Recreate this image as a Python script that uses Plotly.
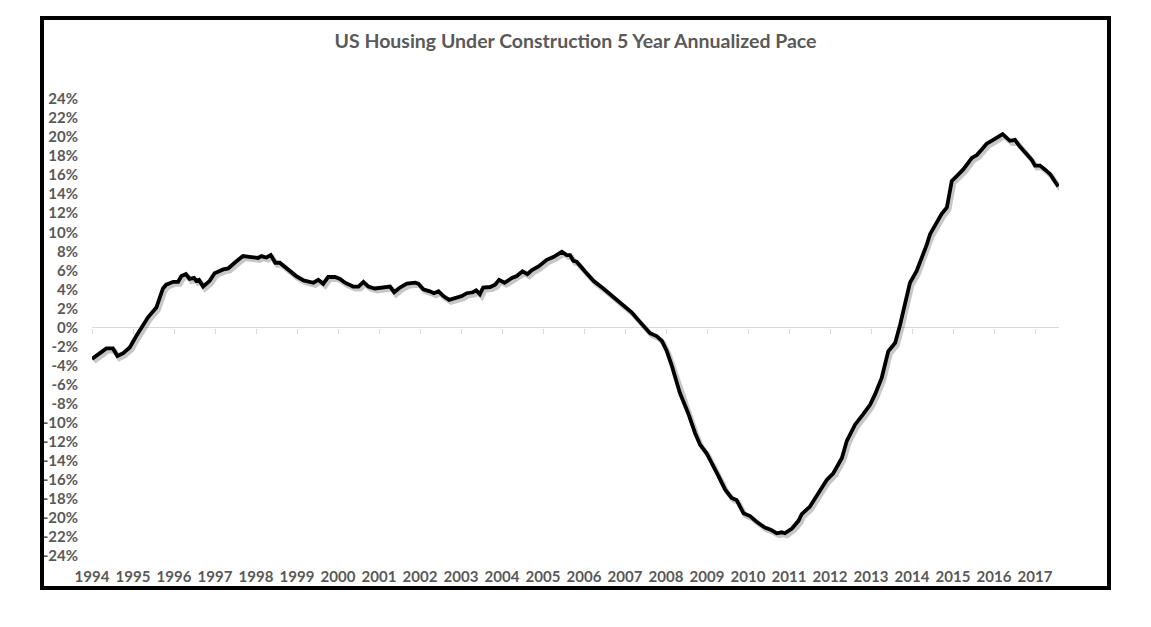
import plotly.graph_objects as go

# ---- data ----
years = [
    1994.00, 1994.15, 1994.35, 1994.51, 1994.62, 1994.76, 1994.92, 1995.08, 1995.24, 1995.37,
    1995.57, 1995.73, 1995.81, 1995.98, 1996.10, 1996.18, 1996.29, 1996.38, 1996.49, 1996.54,
    1996.61, 1996.71, 1996.87, 1996.99, 1997.20, 1997.32, 1997.48, 1997.68, 1997.89, 1998.05,
    1998.13, 1998.25, 1998.36, 1998.47, 1998.58, 1998.78, 1998.98, 1999.16, 1999.40, 1999.52,
    1999.64, 1999.76, 1999.93, 2000.05, 2000.17, 2000.37, 2000.50, 2000.62, 2000.74, 2000.90,
    2001.07, 2001.19, 2001.27, 2001.37, 2001.51, 2001.68, 2001.88, 2001.96, 2002.08, 2002.24,
    2002.34, 2002.45, 2002.57, 2002.71, 2002.90, 2003.02, 2003.14, 2003.29, 2003.37, 2003.46,
    2003.54, 2003.71, 2003.83, 2003.93, 2004.06, 2004.24, 2004.36, 2004.50, 2004.62, 2004.72,
    2004.89, 2005.09, 2005.25, 2005.37, 2005.46, 2005.58, 2005.66, 2005.74, 2005.82, 2006.02,
    2006.23, 2006.47, 2006.68, 2006.84, 2007.00, 2007.16, 2007.32, 2007.49, 2007.61, 2007.77,
    2007.90, 2008.02, 2008.14, 2008.34, 2008.54, 2008.71, 2008.83, 2008.99, 2009.12, 2009.28,
    2009.44, 2009.60, 2009.72, 2009.89, 2010.05, 2010.21, 2010.41, 2010.54, 2010.70, 2010.82,
    2010.90, 2011.07, 2011.23, 2011.31, 2011.51, 2011.71, 2011.92, 2012.08, 2012.29, 2012.41,
    2012.61, 2012.81, 2012.98, 2013.10, 2013.26, 2013.42, 2013.59, 2013.71, 2013.83, 2013.95,
    2014.11, 2014.24, 2014.36, 2014.44, 2014.60, 2014.72, 2014.85, 2014.89, 2014.97, 2015.09,
    2015.25, 2015.46, 2015.58, 2015.70, 2015.82, 2015.98, 2016.10, 2016.21, 2016.31, 2016.39,
    2016.51, 2016.63, 2016.80, 2016.92, 2017.00, 2017.12, 2017.24, 2017.37, 2017.49, 2017.57,
]
pace_pct = [
    -3.3, -2.8, -2.2, -2.2, -3.0, -2.7, -2.1, -0.9, 0.3, 1.1,
    2.1, 4.1, 4.5, 4.8, 4.8, 5.4, 5.6, 5.1, 5.2, 4.9,
    5.0, 4.3, 4.9, 5.7, 6.1, 6.2, 6.8, 7.5, 7.4, 7.3,
    7.5, 7.35, 7.6, 6.8, 6.8, 6.1, 5.4, 4.95, 4.7, 5.0,
    4.6, 5.3, 5.3, 5.1, 4.7, 4.3, 4.3, 4.8, 4.3, 4.1,
    4.2, 4.2, 4.3, 3.7, 4.2, 4.6, 4.7, 4.6, 4.0, 3.8,
    3.6, 3.8, 3.3, 2.9, 3.1, 3.3, 3.6, 3.7, 3.9, 3.5,
    4.2, 4.25, 4.5, 5.0, 4.7, 5.2, 5.4, 5.9, 5.6, 6.0,
    6.4, 7.1, 7.4, 7.7, 7.95, 7.6, 7.6, 7.0, 6.9, 5.9,
    4.9, 4.1, 3.3, 2.8, 2.1, 1.6, 0.8, -0.1, -0.6, -0.9,
    -1.4, -2.5, -4.0, -6.9, -9.0, -11.1, -12.3, -13.2, -14.2, -15.6,
    -17.0, -17.9, -18.1, -19.5, -19.8, -20.4, -21.0, -21.2, -21.6, -21.5,
    -21.6, -21.1, -20.3, -19.6, -18.8, -17.4, -16.0, -15.3, -13.7, -11.9,
    -10.2, -9.1, -8.1, -7.0, -5.3, -2.5, -1.6, 0.3, 2.6, 4.7,
    5.9, 7.3, 8.7, 9.8, 11.0, 11.9, 12.6, 13.4, 15.4, 15.9,
    16.6, 17.8, 18.1, 18.7, 19.3, 19.7, 20.0, 20.3, 19.9, 19.6,
    19.7, 19.0, 18.2, 17.6, 17.0, 17.0, 16.6, 16.1, 15.3, 14.8,
]

x_tick_vals = list(range(1994, 2018))
x_tick_text = [str(y) for y in x_tick_vals]
y_tick_vals = list(range(-24, 25, 2))
y_tick_text = [f"{v}%" for v in y_tick_vals]

title_text = "US Housing Under Construction 5 Year Annualized Pace"

# ---- layout constants (reference pixel coordinates) ----
W, H = 1151, 627
OFF = 8  # page body margin offset
PLOT_L, PLOT_R, PLOT_T, PLOT_B = 92, 1059, 97, 558
ML = PLOT_L - OFF
MT = PLOT_T - OFF
MR = W - PLOT_R + OFF
MB = H - PLOT_B + OFF
X_RANGE = [1994.0, 2017.585]
Y_RANGE = [-24.2, 24.2]
plot_w = PLOT_R - PLOT_L
plot_h = PLOT_B - PLOT_T
px_per_year = plot_w / (X_RANGE[1] - X_RANGE[0])
px_per_pct = plot_h / (Y_RANGE[1] - Y_RANGE[0])

# shadow offset (pixels right / down) expressed through axis ranges
sdx, sdy = 2.0, 2.5
X_RANGE_SH = [X_RANGE[0] - sdx / px_per_year, X_RANGE[1] - sdx / px_per_year]
Y_RANGE_SH = [Y_RANGE[0] + sdy / px_per_pct, Y_RANGE[1] + sdy / px_per_pct]

GRAY = "#595959"
FONT = "Lato, 'Open Sans', Arial, sans-serif"

fig = go.Figure()
fig.add_trace(go.Scatter(x=years, y=pace_pct, mode="lines", line=dict(width=0, color="rgba(0,0,0,0)"),
                         hoverinfo="skip", showlegend=False, xaxis="x", yaxis="y"))
fig.add_trace(go.Scatter(x=years, y=pace_pct, mode="lines",
                         line=dict(width=5, color="rgba(0,0,0,0.22)"),
                         hoverinfo="skip", showlegend=False, xaxis="x2", yaxis="y2"))
fig.add_trace(go.Scatter(x=years, y=pace_pct, mode="lines",
                         line=dict(width=3.8, color="#000000"),
                         showlegend=False, xaxis="x3", yaxis="y3"))

fig.update_layout(
    width=W, height=H,
    margin=dict(l=ML, r=MR, t=MT, b=MB),
    paper_bgcolor="white", plot_bgcolor="white",
    showlegend=False,
    title=dict(text=f"<b>{title_text}</b>", x=0.5, xref="paper", xanchor="center",
               y=1 - (41 - OFF) / H, yref="container", yanchor="middle",
               font=dict(family=FONT, size=19.5, color=GRAY)),
    xaxis=dict(range=X_RANGE, tickmode="array", tickvals=x_tick_vals, ticktext=x_tick_text,
               showgrid=False, zeroline=False, showline=False, ticks="",
               ticklabelstandoff=8,
               tickfont=dict(family=FONT, size=15, color=GRAY, weight="bold")),
    yaxis=dict(range=Y_RANGE, tickmode="array", tickvals=y_tick_vals, ticktext=y_tick_text,
               showgrid=False, zeroline=True, zerolinecolor="#d9d9d9", zerolinewidth=1,
               showline=False, ticks="", ticklabelstandoff=13,
               tickfont=dict(family=FONT, size=15, color=GRAY, weight="bold")),
    xaxis2=dict(range=X_RANGE_SH, overlaying="x", visible=False),
    yaxis2=dict(range=Y_RANGE_SH, overlaying="y", visible=False),
    xaxis3=dict(range=X_RANGE, overlaying="x", anchor="free", position=0.5,
                tickmode="array", tickvals=x_tick_vals, showticklabels=False,
                ticks="outside", ticklen=5, tickcolor="#d9d9d9", tickwidth=1,
                showline=False, showgrid=False, zeroline=False),
    yaxis3=dict(range=Y_RANGE, overlaying="y", anchor="x3", showticklabels=False,
                showgrid=False, zeroline=False, showline=False, ticks=""),
)

def px_to_paper_x(px):
    return (px - PLOT_L) / plot_w

def px_to_paper_y(py):
    return (PLOT_B - py) / plot_h

fig.add_shape(type="rect", xref="paper", yref="paper",
              x0=px_to_paper_x(42), x1=px_to_paper_x(1109),
              y0=px_to_paper_y(588), y1=px_to_paper_y(18),
              line=dict(color="black", width=4), fillcolor="rgba(0,0,0,0)", layer="above")

fig.write_html("out.html")
